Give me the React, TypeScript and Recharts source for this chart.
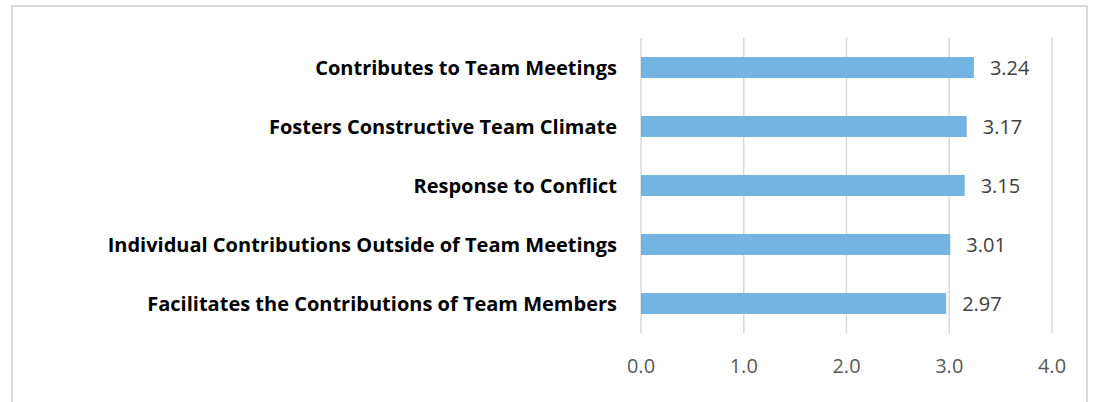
import React from "react";
import { BarChart, Bar, XAxis, YAxis, CartesianGrid, LabelList } from "recharts";

// rating categories, top to bottom
const categories = [
  "Contributes to Team Meetings",
  "Fosters Constructive Team Climate",
  "Response to Conflict",
  "Individual Contributions Outside of Team Meetings",
  "Facilitates the Contributions of Team Members",
];
const scores = [3.24, 3.17, 3.15, 3.01, 2.97];
const xTicks = [0, 1, 2, 3, 4];

const FONT = "'Open Sans', sans-serif";

const App = () => {
  const data = categories.map((name, i) => ({ name, score: scores[i] }));

  return (
    <div style={{ position: "absolute", left: 0, top: 0, width: 1094, height: 402, overflow: "hidden", background: "#fff" }}>
      <div
        style={{
          position: "absolute",
          left: 11,
          top: 5,
          width: 1077,
          height: 420,
          border: "2px solid #d9d9d9",
          boxSizing: "border-box",
        }}
      />
      <div style={{ position: "absolute", left: 0, top: 0 }}>
        <BarChart
          width={1094}
          height={402}
          data={data}
          layout="vertical"
          margin={{ top: 38, right: 42, bottom: 0, left: 0 }}
          barCategoryGap={19}
        >
          <CartesianGrid horizontal={false} stroke="#d9d9d9" strokeWidth={1.5} />
          <XAxis
            type="number"
            domain={[0, 4]}
            ticks={xTicks}
            tickFormatter={(v: number) => v.toFixed(1)}
            axisLine={false}
            tickLine={false}
            tickMargin={20}
            height={69}
            tick={{ fill: "#595959", fontSize: 20, fontFamily: FONT }}
          />
          <YAxis
            type="category"
            dataKey="name"
            width={641}
            axisLine={false}
            tickLine={false}
            tickSize={0}
            tickMargin={24}
            interval={0}
            tick={{ fill: "#000", fontSize: 20, fontWeight: 700, fontFamily: FONT }}
          />
          <Bar dataKey="score" fill="#74b4e3" barSize={21} isAnimationActive={false}>
            <LabelList
              dataKey="score"
              position="right"
              offset={16}
              formatter={(v: number) => v.toFixed(2)}
              style={{ fill: "#404040", fontSize: 20, fontFamily: FONT }}
            />
          </Bar>
        </BarChart>
      </div>
    </div>
  );
};

export default App;
